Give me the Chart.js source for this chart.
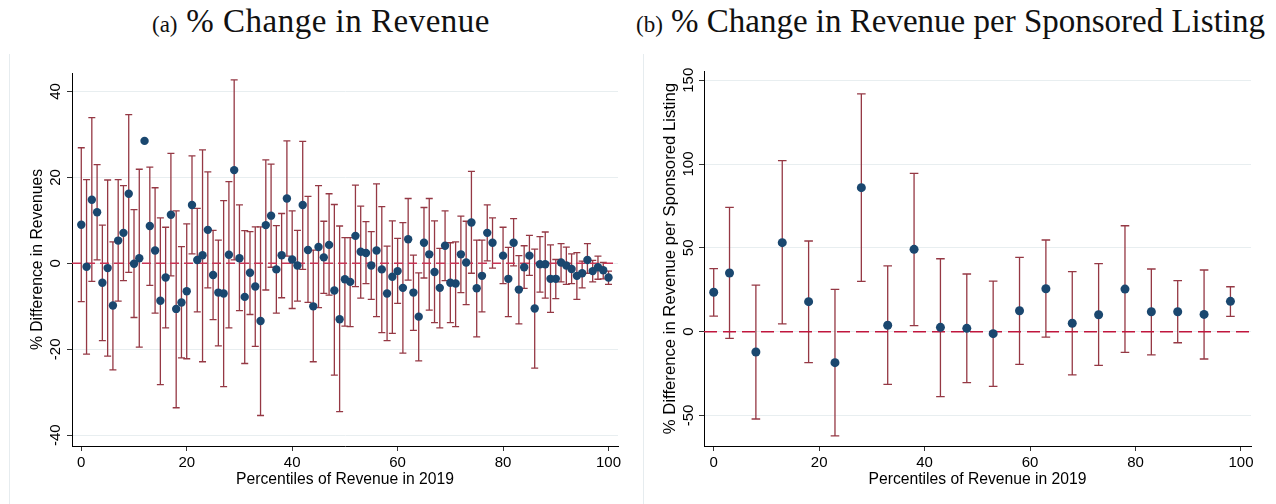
<!DOCTYPE html>
<html>
<head>
<meta charset="utf-8">
<script src="https://cdn.jsdelivr.net/npm/chart.js@4.4.1/dist/chart.umd.min.js"></script>
<style>
body{margin:0;background:#fff;width:1276px;height:504px;overflow:hidden;position:relative}
.ttl{position:absolute;top:3px;font-family:"Liberation Serif","Times New Roman",serif;white-space:nowrap;line-height:36px;color:#111}
.ttl .s{font-size:23px}
.ttl .b{font-size:33px}
.edge{position:absolute;top:54px;bottom:0;width:0;border-left:1px solid #e6ecef}
canvas{position:absolute;top:0}
</style>
</head>
<body>
<div class="ttl" style="left:152px"><span class="s">(a)</span><span class="b" style="letter-spacing:0.5px"> % Change in Revenue</span></div>
<div class="ttl" style="left:636px"><span class="s">(b)</span><span class="b"> % Change in Revenue per Sponsored Listing</span></div>
<div class="edge" style="left:9px"></div>
<div class="edge" style="left:643px"></div>
<canvas id="chartA" width="640" height="504" style="left:0"></canvas>
<canvas id="chartB" width="636" height="504" style="left:640px"></canvas>
<script>
// panel (a): percentiles 0..100, point estimate and 95% CI bounds
const pctA=[0,1,2,3,4,5,6,7,8,9,10,11,12,13,14,15,16,17,18,19,20,21,22,23,24,25,26,27,28,29,30,31,32,33,34,35,36,37,38,39,40,41,42,43,44,45,46,47,48,49,50,51,52,53,54,55,56,57,58,59,60,61,62,63,64,65,66,67,68,69,70,71,72,73,74,75,76,77,78,79,80,81,82,83,84,85,86,87,88,89,90,91,92,93,94,95,96,97,98,99,100];
const estA=[9.0,-0.8,14.8,11.9,-4.5,-1.1,-9.8,5.3,7.1,16.2,-0.1,1.2,28.5,8.7,3.0,-8.7,-3.3,11.3,-10.6,-9.1,-6.5,13.6,0.8,1.9,7.8,-2.7,-6.8,-7.0,2.0,21.7,1.2,-7.8,-2.2,-5.4,-13.4,8.9,11.1,-1.4,1.9,15.1,0.9,-0.5,13.6,3.1,-10.0,3.8,1.4,4.3,-6.3,-13.0,-3.7,-4.3,6.4,2.7,2.4,-0.5,3.0,-1.4,-7.0,-3.1,-1.8,-5.7,5.6,-6.8,-12.4,4.8,2.1,-2.0,-5.7,4.1,-4.5,-4.7,2.1,0.2,9.5,-5.8,-2.9,7.1,4.8,null,1.8,-3.6,4.8,-6.1,-0.9,1.8,-10.5,-0.2,-0.2,-3.6,-3.6,0.2,-0.5,-1.3,-2.9,-2.3,0.8,-1.8,-0.9,-1.6,-3.3];
const loA=[-8.9,-21.1,-4.2,0.8,-18.0,-21.6,-24.8,-8.8,-4.0,-2.1,-12.6,-19.5,null,-5.1,-11.6,-28.2,-15.0,-2.9,-33.6,-22.0,-22.2,2.2,-11.3,-22.9,-5.7,-13.1,-19.2,-28.7,-15.0,0.8,-11.0,-23.3,-11.9,-19.3,-35.4,-6.2,-0.9,-11.6,-8.0,1.7,-10.5,-8.8,-1.4,-9.1,-22.9,-10.3,-7.0,-7.4,-26.0,-34.5,-14.6,-14.7,-5.4,-8.1,-4.7,-8.4,-12.4,-16.1,-18.0,-16.3,-9.3,-20.9,-3.9,-15.6,-22.7,-3.4,-10.9,-13.8,-15.0,-4.0,-13.8,-14.7,-6.8,-9.6,-2.3,-17.1,-11.3,0.6,-1.1,null,-4.7,-12.4,-0.6,-14.1,-5.8,-2.8,-24.4,-6.7,-8.1,-11.4,-8.2,-4.3,-4.9,-4.7,-8.4,-5.7,-2.3,-4.3,-3.7,-3.6,-4.9];
const hiA=[26.9,19.5,33.9,23.0,8.9,19.4,5.0,19.5,18.1,34.6,12.5,21.9,null,22.4,17.6,10.6,8.4,25.6,12.2,3.9,9.2,25.0,12.8,26.4,21.3,7.7,5.4,14.6,19.0,42.7,13.6,7.6,7.4,8.5,8.5,24.1,23.1,8.8,11.6,28.5,12.2,7.7,28.4,15.6,3.1,18.1,9.8,16.2,13.7,8.7,6.0,6.0,18.2,13.3,9.7,7.4,18.5,13.2,4.0,9.9,5.8,9.5,15.1,1.9,-2.2,13.0,15.1,9.9,3.5,12.2,4.8,5.0,11.0,9.8,21.4,5.4,5.4,13.6,10.6,null,8.4,3.7,10.4,1.8,4.1,6.5,3.3,6.2,7.3,4.3,0.9,4.6,3.8,2.2,2.5,0.5,4.6,0.7,1.7,0.2,-1.8];

// panel (b): every fifth percentile
const pctB=[0,3,8,13,18,23,28,33,38,43,48,53,58,63,68,73,78,83,88,93,98];
const estB=[23.5,35.0,-12.1,53.1,17.9,-18.5,85.9,3.8,49.1,2.6,2.0,-1.2,12.5,25.6,5.0,10.1,25.4,11.9,11.9,10.3,18.1];
const loB=[9.3,-4.0,-52.1,4.6,-18.5,-62.2,30.0,-31.4,3.6,-38.8,-30.4,-32.6,-19.5,-3.2,-25.8,-20.1,-12.3,-13.9,-6.6,-16.3,9.1];
const hiB=[37.6,74.2,27.8,102.0,54.1,25.2,141.9,39.2,94.4,43.5,34.4,30.2,44.3,54.7,35.8,40.6,63.2,37.4,30.4,36.8,26.8];

const xTicks=[0,20,40,60,80,100];
const yTicksA=[-40,-20,0,20,40];
const yTicksB=[-50,0,50,100,150];

const FONT='"Liberation Sans", Arial, Helvetica, sans-serif';

// vertical CI bars with caps, drawn under the points
const errBars={
  id:'errBars',
  beforeDatasetsDraw(chart,args,o){
    const {ctx,scales:{x,y}}=chart;
    ctx.save();
    ctx.strokeStyle=o.color;ctx.lineWidth=o.width;
    o.xs.forEach((v,i)=>{
      if(o.lo[i]==null||o.hi[i]==null) return;
      const px=x.getPixelForValue(v),p1=y.getPixelForValue(o.lo[i]),p2=y.getPixelForValue(o.hi[i]);
      ctx.beginPath();
      ctx.moveTo(px,p1);ctx.lineTo(px,p2);
      ctx.moveTo(px-o.cap,p1);ctx.lineTo(px+o.cap,p1);
      ctx.moveTo(px-o.cap,p2);ctx.lineTo(px+o.cap,p2);
      ctx.stroke();
    });
    ctx.restore();
  }
};

// stata-style vertical y tick labels
const yLabels={
  id:'yLabels',
  afterDraw(chart,args,o){
    const {ctx,scales:{y}}=chart;
    ctx.save();
    ctx.fillStyle='#000';ctx.font='15px '+FONT;
    ctx.textAlign='center';ctx.textBaseline='alphabetic';
    y.ticks.forEach(t=>{
      ctx.save();
      ctx.translate(o.x,y.getPixelForValue(t.value));
      ctx.rotate(-Math.PI/2);
      ctx.fillText(String(t.value),0,0);
      ctx.restore();
    });
    ctx.restore();
  }
};

function makeChart(id,c){
  return new Chart(document.getElementById(id),{
    type:'scatter',
    data:{datasets:[
      {data:c.xs.map((v,i)=>({x:v,y:c.est[i]})),pointRadius:c.r,pointBackgroundColor:'#1a476f',pointBorderWidth:0,showLine:false},
      {type:'line',data:[{x:c.xmin,y:0},{x:c.xmax,y:0}],borderColor:c.dashColor,borderWidth:1.5,borderDash:c.dash,pointRadius:0,fill:false}
    ]},
    options:{
      responsive:false,animation:false,devicePixelRatio:1,
      layout:{padding:{left:0,right:c.padR,top:c.padT,bottom:0}},
      plugins:{
        legend:{display:false},tooltip:{enabled:false},
        errBars:{xs:c.xs,lo:c.lo,hi:c.hi,color:'#953844',width:1.3,cap:c.cap},
        yLabels:{x:c.labX}
      },
      scales:{
        x:{
          type:'linear',min:c.xmin,max:c.xmax,
          afterBuildTicks:s=>{s.ticks=xTicks.map(v=>({value:v}));},
          afterFit:s=>{s.height=58;},
          grid:{display:true,drawOnChartArea:false,drawTicks:true,tickLength:5,tickColor:'#333'},
          border:{display:true,color:'#000',width:1},
          ticks:{color:'#000',font:{size:15,family:FONT},padding:3,maxRotation:0},
          title:{display:true,text:'Percentiles of Revenue in 2019',color:'#000',font:{size:15.7,family:FONT},padding:{top:0,bottom:14.6}}
        },
        y:{
          type:'linear',min:c.ymin,max:c.ymax,
          afterBuildTicks:s=>{s.ticks=c.yTicks.map(v=>({value:v}));},
          afterFit:s=>{s.width=c.yW;},
          grid:{color:'#e8eef0',lineWidth:1,drawTicks:true,tickLength:5,tickColor:'#333'},
          border:{display:true,color:'#000',width:1},
          ticks:{display:false},
          title:{display:true,text:c.yTitle,color:'#000',font:{size:c.yTitleSize,family:FONT},padding:{top:c.titlePad,bottom:0}}
        }
      }
    },
    plugins:[errBars,yLabels]
  });
}

makeChart('chartA',{
  xs:pctA,est:estA,lo:loA,hi:hiA,r:4.2,cap:3.5,
  xmin:-1.76,xmax:101.8,ymin:-42.5,ymax:44.3,yTicks:yTicksA,
  padR:22,padT:73,yW:72,labX:60,titlePad:28.6,yTitleSize:15.7,
  dash:[9,5],dashColor:'#c93455',
  yTitle:'% Difference in Revenues'
});

makeChart('chartB',{
  xs:pctB,est:estB,lo:loB,hi:hiB,r:4.5,cap:4.3,
  xmin:-1.84,xmax:101.9,ymin:-68.2,ymax:155.5,yTicks:yTicksB,
  padR:25,padT:71,yW:64,labX:53,titlePad:20,yTitleSize:16.7,
  dash:[13,6],dashColor:'#c0163d',
  yTitle:'% Difference in Revenue per Sponsored Listing'
});
</script>
</body>
</html>
